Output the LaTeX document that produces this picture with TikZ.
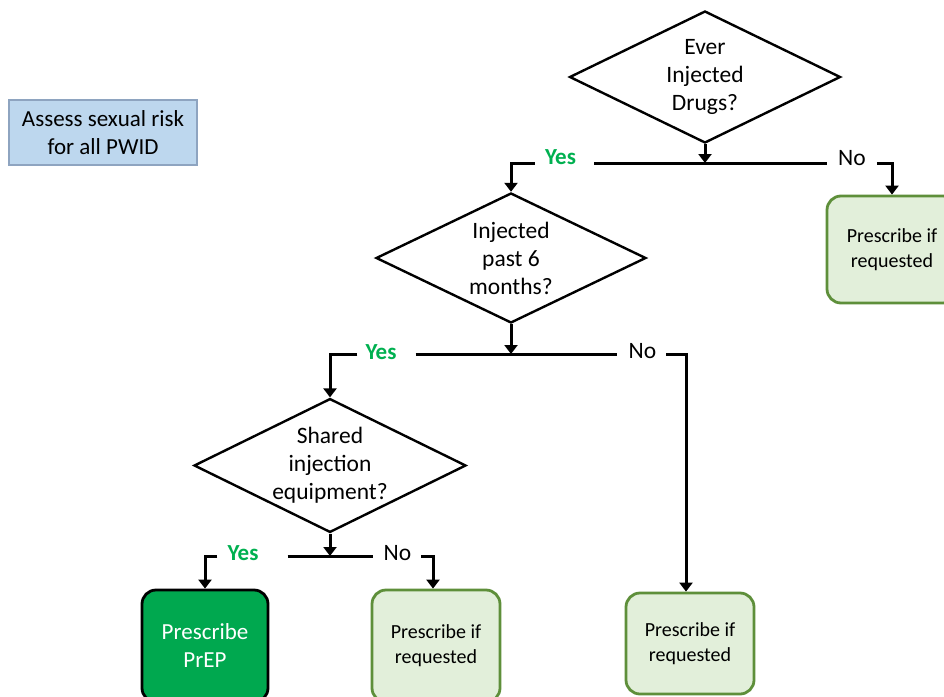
\documentclass[tikz,border=0pt]{standalone}
\usepackage{fontspec}
\setmainfont{Carlito}
\usetikzlibrary{shapes.geometric,arrows.meta}
\definecolor{yesgreen}{HTML}{00B050}
\definecolor{prepgreen}{HTML}{00A84F}
\definecolor{softgreen}{HTML}{E2EFDA}
\definecolor{edgegreen}{HTML}{5E8F3A}
\definecolor{softblue}{HTML}{BDD7EE}
\definecolor{edgeblue}{HTML}{8EA4C0}
\begin{document}
\begin{tikzpicture}[x=1pt,y=-1pt,
    decision/.style={diamond, draw, line width=2.4pt, inner sep=0pt, aspect=2,
        minimum width=271pt, minimum height=132pt, align=center,
        font=\fontsize{23.5}{28}\selectfont},
    optbox/.style={draw=edgegreen, fill=softgreen, line width=2.8pt, rounded corners=14pt,
        minimum width=128pt, align=center, font=\fontsize{20}{25}\selectfont},
    prepbox/.style={draw, fill=prepgreen, line width=2.8pt, rounded corners=14pt,
        minimum width=126pt, align=center, text=white, font=\fontsize{23}{28}\selectfont},
    yeslabel/.style={font=\fontsize{23}{24}\selectfont\bfseries, text=yesgreen, inner sep=0pt},
    nolabel/.style={font=\fontsize{23.5}{24}\selectfont, inner sep=0pt},
    conn/.style={line width=3pt, -{Triangle[length=9pt,width=13pt]}},
    wire/.style={line width=3pt}]
    \clip (0,0) rectangle (944,696);

    % Recuadro
    \node[draw=edgeblue, fill=softblue, line width=1.2pt, minimum width=188pt, minimum height=65pt,
        align=center, font=\fontsize{23}{28}\selectfont] (assess) at (103,132.5) {Assess sexual risk\\for all PWID};

    % Decisiones
    \node[decision] (d1) at (705,77) {Ever\\Injected\\Drugs?};
    \node[decision, minimum width=270pt, minimum height=130pt] (d2) at (511,258) {Injected\\past 6\\months?};
    \node[decision, minimum width=272pt, minimum height=121pt] (d3) at (330,465.5) {Shared\\injection\\equipment?};

    % Resultados
    \node[optbox, minimum width=130pt, minimum height=107pt] (r1) at (892,249.5) {Prescribe if\\requested};
    \node[optbox, minimum height=101pt] (r2) at (690,643.5) {Prescribe if\\requested};
    \node[optbox, minimum height=112pt] (r3) at (436,646) {Prescribe if\\requested};
    \node[prepbox, minimum height=112pt] (p1) at (205,646) {Prescribe\\PrEP};

    % Etiquetas
    \coordinate (j1) at (703,163);
    \coordinate (j2) at (511,354);
    \coordinate (j3) at (330,556);
    \node[yeslabel] (y1) at (560.5,157) {Yes};
    \node[nolabel] (n1) at (852,158) {No};
    \node[yeslabel] (y2) at (381,352) {Yes};
    \node[nolabel] (n2) at (642.5,351) {No};
    \node[yeslabel] (y3) at (243,553) {Yes};
    \node[nolabel] (n3) at (397.5,553) {No};

    % Flechas
    \draw[conn] (d1.south) -- (d1.south |- j1);
    \draw[wire] ([xshift=18pt]y1.east |- j1) -- ([xshift=-11pt]n1.west |- j1);
    \draw[conn] ([xshift=-10pt]y1.west |- j1) -| (d2.north);
    \draw[conn] ([xshift=11pt]n1.east |- j1) -| (r1.north);

    \draw[conn] (d2.south) -- (j2);
    \draw[wire] ([xshift=19pt]y2.east |- j2) -- ([xshift=-12pt]n2.west |- j2);
    \draw[conn] ([xshift=-8pt]y2.west |- j2) -| (d3.north);
    \draw[conn] ([xshift=10pt]n2.east |- j2) -| ([xshift=-4pt]r2.north);

    \draw[conn] (d3.south) -- (j3);
    \draw[wire] ([xshift=29pt]y3.east |- j3) -- ([xshift=-11pt]n3.west |- j3);
    \draw[conn] ([xshift=-10pt]y3.west |- j3) -| (p1.north);
    \draw[conn] ([xshift=10pt]n3.east |- j3) -| ([xshift=-3pt]r3.north);
\end{tikzpicture}
\end{document}
